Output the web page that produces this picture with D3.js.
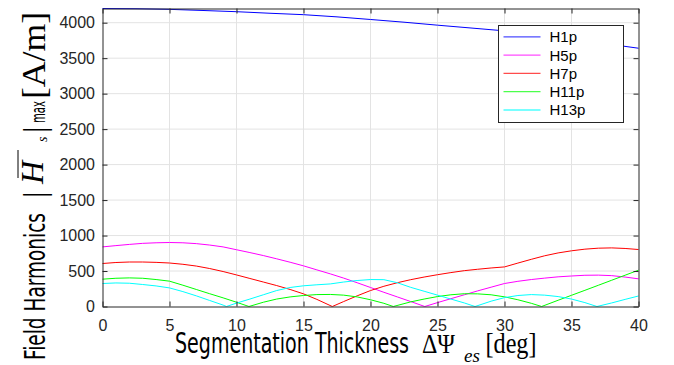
<!DOCTYPE html>
<html>
<head>
<meta charset="utf-8">
<script src="https://cdn.jsdelivr.net/npm/d3@7/dist/d3.min.js"></script>
<style>
  body { margin: 0; background: #fff; }
  #chart svg { display: block; }
</style>
</head>
<body>
<div id="chart"></div>
<script>
// constants
const w = 674,
      h = 365,
      x0 = 102.5,
      x1 = 638.5,
      y0 = 306.5,
      y1 = 8.5;

// data: [deg, A/m]
const xTicks = [0, 5, 10, 15, 20, 25, 30, 35, 40];
const yTicks = [0, 500, 1000, 1500, 2000, 2500, 3000, 3500, 4000];
const names = ["H1p", "H5p", "H7p", "H11p", "H13p"];
const colors = ["#0000ff", "#ff00ff", "#ff0000", "#00ff00", "#00ffff"];

const h1p = [[0,4200],[2.5,4197],[5,4188],[7.5,4172],[10,4155],[12.5,4133],[15,4113],
  [17.5,4082],[20,4045],[22.5,4007],[25,3965],[27.5,3925],[30,3885],[32.5,3828],
  [35,3765],[37.5,3705],[40,3640]];
const h5p = [[0,840],[1,858],[2,875],[3,890],[4,898],[5,902],[6,898],[7,886],[8,866],
  [9,840],[10,800],[11,760],[12,718],[13,672],[14,624],[15,573],[16,516],[17,460],
  [18,400],[19,335],[20,268],[21,200],[22,135],[23,70],[24.05,0],[25,55],[26,110],
  [27,165],[28,220],[29,272],[30,324],[31,355],[32,380],[33,400],[34,418],[35,430],
  [36,440],[37,442],[38,435],[39,415],[40,390]];
const h7p = [[0,606],[1,620],[2,627],[3,627],[4,622],[5,613],[6,595],[7,570],[8,535],
  [9,493],[10,445],[11,395],[12,345],[13,295],[14,240],[15,178],[16,100],[17.15,0],
  [18,70],[19,150],[20,225],[21,285],[22,335],[23,378],[24,415],[25,448],[26,478],
  [27,505],[28,525],[29,543],[30,558],[31,612],[32,665],[33,715],[34,755],[35,785],
  [36,808],[37,822],[38,826],[39,818],[40,803]];
const h11p = [[0,385],[1,398],[2,403],[3,398],[4,380],[5,357],[6,300],[7,240],[8,180],
  [9,122],[10,60],[10.93,0],[12,60],[13,105],[14,135],[15,155],[16,168],[17,170],
  [18,160],[19,135],[20,95],[21,45],[21.7,0],[23,65],[24,105],[25,140],[26,165],
  [27,180],[28,178],[29,165],[30,136],[31,95],[32,45],[32.77,0],[34,88],[35,158],
  [36,228],[37,299],[38,370],[39,441],[40,512]];
const h13p = [[0,324],[1,332],[2,328],[3,310],[4,290],[5,262],[6,210],[7,150],[8,85],
  [9,20],[9.25,0],[10,48],[11,105],[12,165],[13,225],[14,268],[15,292],[16,306],
  [17,318],[18,345],[19,366],[20,380],[21,378],[22,335],[23,270],[24,215],[25,160],
  [26,105],[27,50],[27.8,0],[29,75],[30,125],[31,155],[32,168],[33,160],[34,140],
  [35,105],[36,55],[36.9,0],[38,50],[39,100],[40,148]];
const series = [h1p, h5p, h7p, h11p, h13p];

let chart = d3.select("#chart")
              .append("svg")
              .attr("width", w)
              .attr("height", h)
              .style("font-family", "'Liberation Sans', Arial, sans-serif");

let xScale = d3.scaleLinear().domain([0, 40]).range([x0, x1]);
let yScale = d3.scaleLinear().domain([0, 4200]).range([y0, y1]);

// grid
chart.append("g")
     .selectAll("line")
     .data(xTicks.slice(1, -1))
     .enter()
     .append("line")
     .attr("x1", d => xScale(d)).attr("x2", d => xScale(d))
     .attr("y1", y0).attr("y2", y1)
     .attr("stroke", "#e3e3e3");
chart.append("g")
     .selectAll("line")
     .data(yTicks.slice(1))
     .enter()
     .append("line")
     .attr("x1", x0).attr("x2", x1)
     .attr("y1", d => yScale(d)).attr("y2", d => yScale(d))
     .attr("stroke", "#e3e3e3");

// lines
let line = d3.line()
             .x(d => xScale(d[0]))
             .y(d => yScale(d[1]));
chart.append("g")
     .selectAll("path")
     .data(series)
     .enter()
     .append("path")
     .attr("d", line)
     .attr("fill", "none")
     .attr("stroke", (d, i) => colors[i])
     .attr("stroke-width", 1);

// axes, ticks pointing in
let xAxis = d3.axisBottom(xScale).tickValues(xTicks).tickFormat(d3.format("d"))
              .tickSizeInner(-5).tickSizeOuter(0).tickPadding(13.5);
let yAxis = d3.axisLeft(yScale).tickValues(yTicks).tickFormat(d3.format("d"))
              .tickSizeInner(-5).tickSizeOuter(0).tickPadding(7.5);
let xTop = d3.axisTop(xScale).tickValues(xTicks).tickSizeInner(-5).tickSizeOuter(0).tickFormat("");
let yRight = d3.axisRight(yScale).tickValues(yTicks).tickSizeInner(-5).tickSizeOuter(0).tickFormat("");

chart.append("g").attr("transform", `translate(0, ${y0})`).call(xAxis);
chart.append("g").attr("transform", `translate(${x0}, 0)`).call(yAxis);
chart.append("g").attr("transform", `translate(0, ${y1})`).call(xTop);
chart.append("g").attr("transform", `translate(${x1}, 0)`).call(yRight);

chart.selectAll(".tick line").attr("stroke", "#262626");
chart.selectAll(".domain").attr("stroke", "#262626");
chart.selectAll(".tick text")
     .attr("fill", "#262626")
     .style("font-size", "16px")
     .style("font-family", "'Liberation Sans', Arial, sans-serif");

// legend
let legend = chart.append("g").attr("transform", "translate(498.5, 25.5)");
legend.append("rect")
      .attr("width", 125)
      .attr("height", 97)
      .attr("fill", "#fff")
      .attr("stroke", "#262626");
let items = legend.selectAll("g.item")
                  .data(names)
                  .enter()
                  .append("g")
                  .attr("class", "item")
                  .attr("transform", (d, i) => `translate(0, ${11.3 + i * 18.3})`);
items.append("line")
     .attr("x1", 5).attr("x2", 42)
     .attr("stroke", (d, i) => colors[i])
     .attr("stroke-width", 1.3)
     .attr("stroke-opacity", 0.7);
items.append("text")
     .attr("x", 51)
     .attr("dy", "0.36em")
     .attr("fill", "#000")
     .style("font-size", "15px")
     .text(d => d);

// x label
let xl = chart.append("g").attr("fill", "#000");
xl.append("text")
  .attr("x", 175).attr("y", 353)
  .attr("textLength", 234).attr("lengthAdjust", "spacingAndGlyphs")
  .style("font-family", "'Liberation Sans Narrow', 'DejaVu Sans Condensed', sans-serif")
  .style("font-size", "28px")
  .text("Segmentation Thickness");
xl.append("text")
  .attr("x", 422).attr("y", 353)
  .attr("textLength", 33).attr("lengthAdjust", "spacingAndGlyphs")
  .style("font-family", "'Liberation Serif', serif")
  .style("font-size", "28px")
  .text("ΔΨ");
xl.append("text")
  .attr("x", 464).attr("y", 362)
  .style("font-family", "'Liberation Serif', serif")
  .style("font-style", "italic")
  .style("font-size", "19px")
  .text("es");
xl.append("text")
  .attr("x", 485.5).attr("y", 353)
  .attr("textLength", 51).attr("lengthAdjust", "spacingAndGlyphs")
  .style("font-family", "'Liberation Serif', serif")
  .style("font-size", "29px")
  .text("[deg]");

// y label (rotated)
let yl = chart.append("g").attr("transform", "translate(45, 0) rotate(-90)").attr("fill", "#000");
yl.append("text")
  .attr("x", -360).attr("y", 0)
  .attr("textLength", 147).attr("lengthAdjust", "spacingAndGlyphs")
  .style("font-family", "'Liberation Sans Narrow', 'DejaVu Sans Condensed', sans-serif")
  .style("font-size", "27.5px")
  .text("Field Harmonics");
yl.append("text")
  .attr("x", -198).attr("y", 0)
  .style("font-family", "'Liberation Serif', serif")
  .style("font-size", "32px")
  .text("|");
yl.append("text")
  .attr("x", -184).attr("y", -2)
  .style("font-family", "'Liberation Serif', serif")
  .style("font-style", "italic")
  .style("font-size", "32px")
  .text("H");
yl.append("line")
  .attr("x1", -178).attr("x2", -150)
  .attr("y1", -27).attr("y2", -27)
  .attr("stroke", "#000").attr("stroke-width", 1);
yl.append("text")
  .attr("x", -142).attr("y", 2)
  .style("font-family", "'Liberation Serif', serif")
  .style("font-style", "italic")
  .style("font-size", "14px")
  .text("s");
yl.append("text")
  .attr("x", -133).attr("y", 0)
  .style("font-family", "'Liberation Serif', serif")
  .style("font-size", "32px")
  .text("|");
yl.append("text")
  .attr("x", -123).attr("y", 0)
  .attr("textLength", 22).attr("lengthAdjust", "spacingAndGlyphs")
  .style("font-family", "'Liberation Sans Narrow', 'DejaVu Sans Condensed', sans-serif")
  .style("font-size", "20px")
  .text("max");
yl.append("text")
  .attr("x", -99).attr("y", 0)
  .attr("textLength", 87).attr("lengthAdjust", "spacingAndGlyphs")
  .style("font-family", "'Liberation Serif', serif")
  .style("font-size", "33px")
  .text("[A/m]");
</script>
</body>
</html>
